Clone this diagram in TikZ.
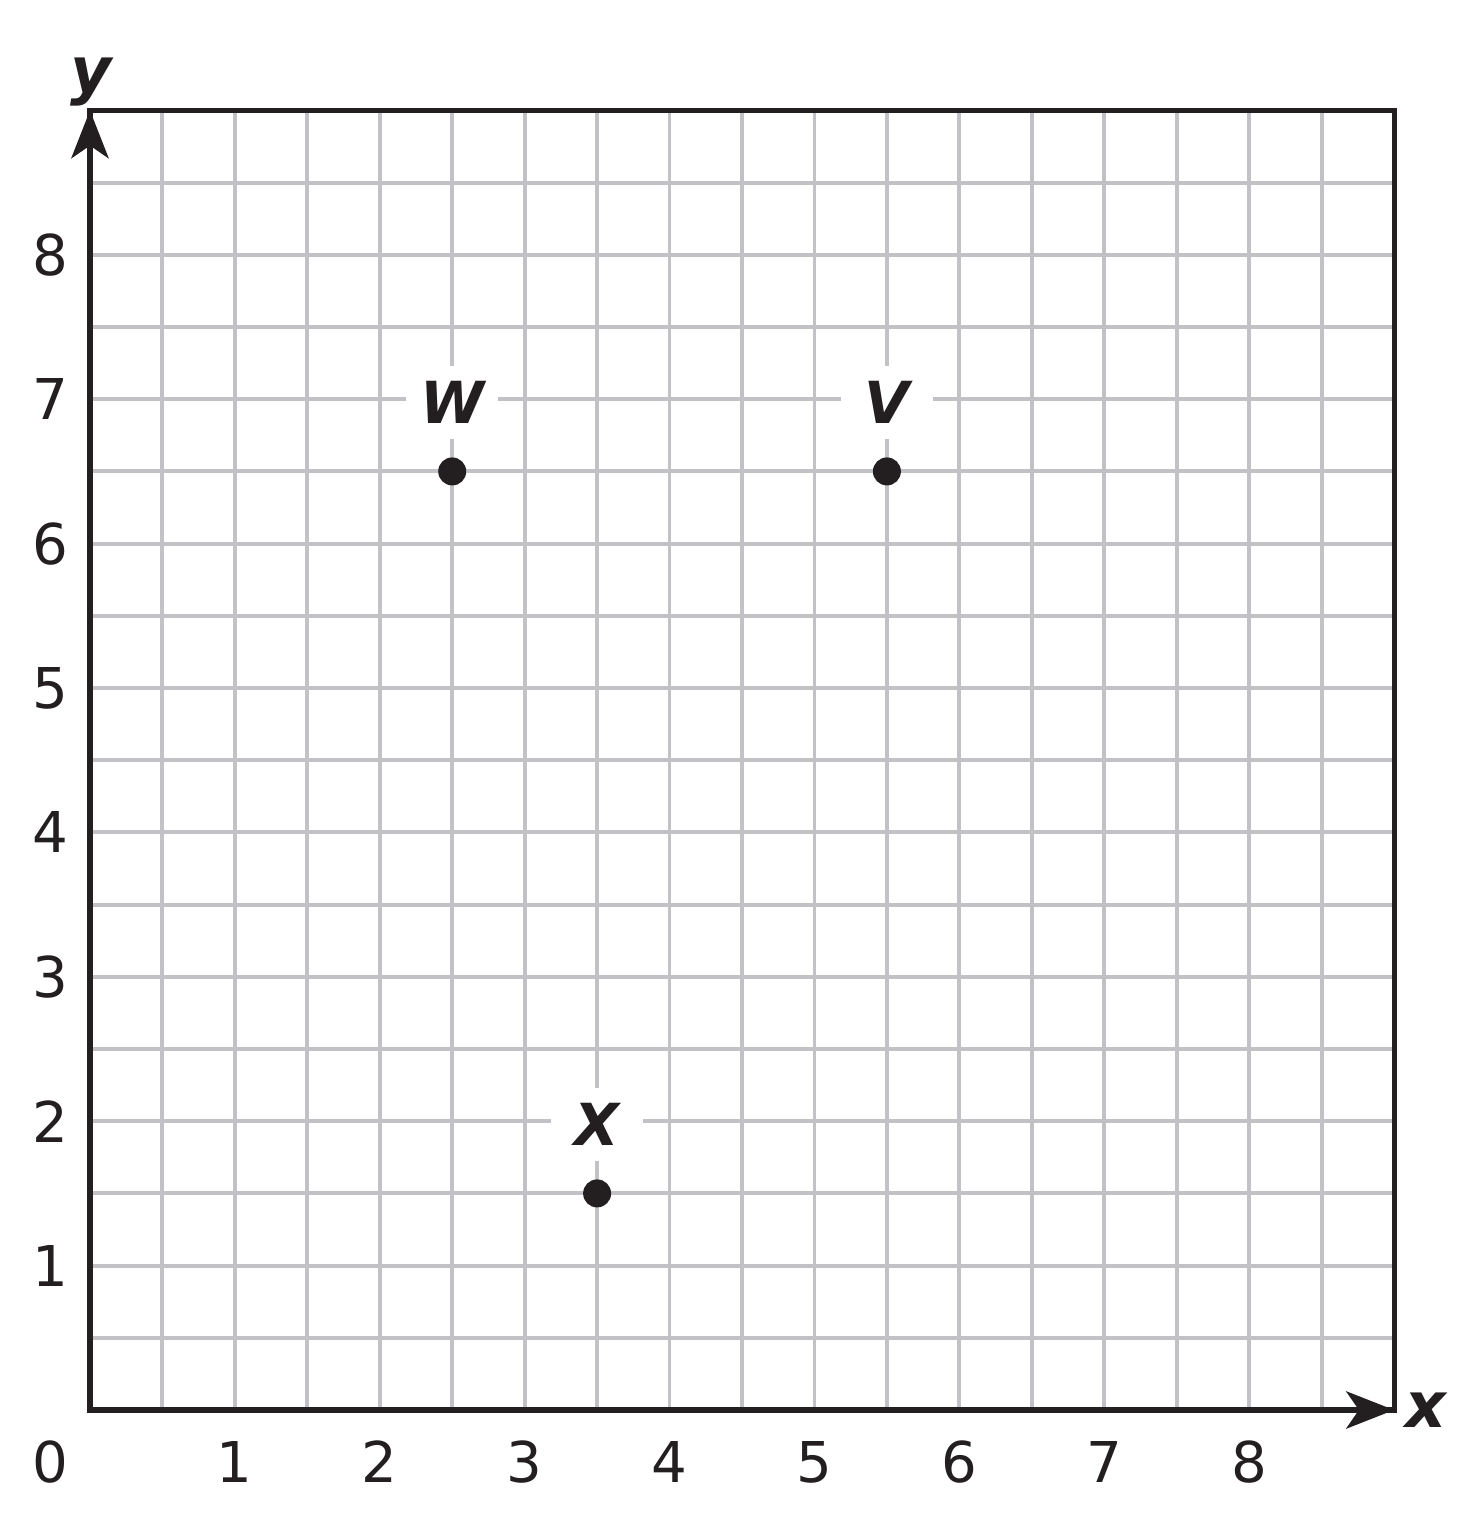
\documentclass[tikz,border=0pt]{standalone}
\usepackage{fontspec}
\setmainfont{DejaVu Sans}
\usetikzlibrary{arrows.meta}
\definecolor{ink}{HTML}{231F20}
\definecolor{gridgray}{HTML}{C2C2C6}
\tikzset{
  gridline/.style={draw=gridgray, line width=1.1pt},
  frameline/.style={draw=ink, line width=1.45pt},
  axisline/.style={draw=ink, line width=1.45pt, -{Stealth[length=13.6pt, width=10.6pt, inset=3.6pt]}},
  tick/.style={text=ink, font=\fontsize{16}{16}\selectfont, inner sep=0pt},
  axislabel/.style={text=ink, font=\fontsize{18}{18}\selectfont\bfseries\itshape, inner sep=0pt},
  ptlabel/.style={text=ink, fill=white, font=\fontsize{16.5}{16.5}\selectfont\bfseries\itshape, inner sep=0pt, minimum width=0.92cm, minimum height=0.73cm},
  dot/.style={circle, fill=ink, inner sep=0pt, minimum size=0.28cm}
}
\begin{document}
\begin{tikzpicture}[x=1.449cm, y=1.444cm]
\useasboundingbox[fill=white] (-0.621,-0.7756) rectangle (9.538,9.765);
% grid
\foreach \i in {1,...,17} {
  \draw[gridline] (\i/2,0) -- (\i/2,9);
  \draw[gridline] (0,\i/2) -- (9,\i/2);
}
% frame
\coordinate (O) at (0,0);
\coordinate (xend) at (9,0);
\coordinate (yend) at (0,9);
\coordinate (tr) at (9,9);
\draw[frameline] (O) -- (yend) -- (tr) -- (xend) -- cycle;
\draw[axisline] (O) -- (xend);
\draw[axisline] (O) -- (yend);
% axis labels
\node[axislabel] (xlab) at (9.22,0) {x};
\node[axislabel] (ylab) at (0.01,9.2) {y};
% tick labels
\node[tick] (t0) at (-0.276,-0.36) {0};
\foreach \k in {1,...,8} {
  \node[tick] (tx\k) at (\k,-0.36) {\k};
  \node[tick] (ty\k) at (-0.27,\k) {\k};
}
% point labels
\node[ptlabel] (lw) at (2.5,6.98) {W};
\node[ptlabel] (lv) at (5.5,6.98) {V};
\node[ptlabel] (lx) at (3.5,1.98) {X};
% points
\node[dot] (w) at (2.5,6.5) {};
\node[dot] (v) at (5.5,6.5) {};
\node[dot] (x) at (3.5,1.5) {};
\end{tikzpicture}
\end{document}
